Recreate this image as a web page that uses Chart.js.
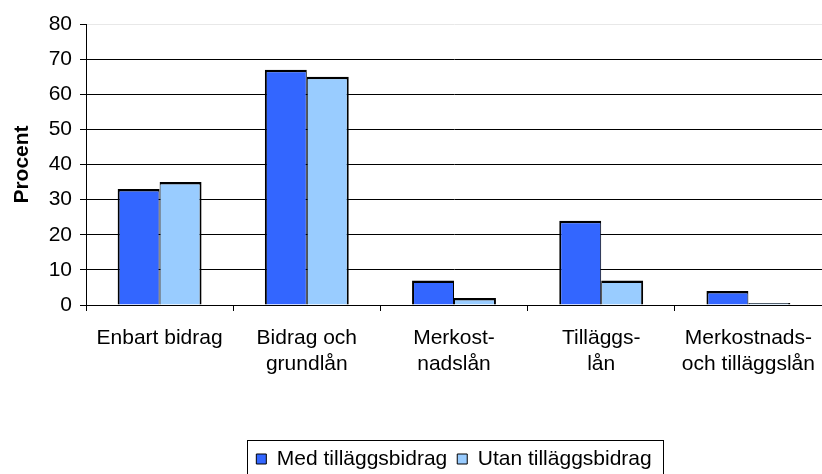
<!DOCTYPE html>
<html>
<head>
<meta charset="utf-8">
<script src="https://cdn.jsdelivr.net/npm/chart.js@4/dist/chart.umd.min.js"></script>
<style>
  html, body { margin: 0; padding: 0; background: #fff; }
  #wrap { width: 822px; height: 474px; }
</style>
</head>
<body>
<div id="wrap"><canvas id="stodChart" width="822" height="474"></canvas></div>
<script>
const categories = [
  ['Enbart bidrag'],
  ['Bidrag och', 'grundlån'],
  ['Merkost-', 'nadslån'],
  ['Tilläggs-', 'lån'],
  ['Merkostnads-', 'och tilläggslån']
];
const medTillagg = [33, 67, 7, 24, 4];
const utanTillagg = [35, 65, 2, 7, 0.6];
const yTicks = [0, 10, 20, 30, 40, 50, 60, 70, 80];

const FONT = "'Liberation Sans', Arial, sans-serif";

// ram runt legenden, som i originalet
const legendFrame = {
  id: 'legendFrame',
  afterLayout(chart) {
    const lg = chart.legend;
    const h = lg.height;
    lg.top = 438.5;
    lg.bottom = lg.top + h;
  },
  afterDraw(chart) {
    const lg = chart.legend;
    const boxes = lg.legendHitBoxes;
    if (!boxes || !boxes.length) return;
    const first = boxes[0];
    const last = boxes[boxes.length - 1];
    const ctx = chart.ctx;
    const left = Math.round(first.left - 9) + 0.5;
    const right = Math.round(last.left + last.width + 11) + 0.5;
    const top = Math.round(lg.top + 1) + 0.5;
    ctx.save();
    ctx.strokeStyle = '#000';
    ctx.lineWidth = 1;
    ctx.strokeRect(left, top, right - left, 60);
    ctx.restore();
  }
};

const ctx = document.getElementById('stodChart').getContext('2d');

const stodChart = new Chart(ctx, {
  type: 'bar',
  data: {
    labels: categories,
    datasets: [
      {
        label: 'Med tilläggsbidrag',
        data: medTillagg,
        backgroundColor: '#3366ff',
        borderColor: '#000',
        borderWidth: { top: 2.5, left: 2, right: 1, bottom: 0 }
      },
      {
        label: 'Utan tilläggsbidrag',
        data: utanTillagg,
        backgroundColor: '#99ccff',
        borderColor: '#000',
        borderWidth: { top: 2.5, left: 1, right: 2, bottom: 0 }
      }
    ]
  },
  options: {
    responsive: false,
    animation: false,
    devicePixelRatio: 1,
    layout: { padding: { top: 24, right: 0, left: 0, bottom: 0 } },
    datasets: {
      bar: { categoryPercentage: 0.57, barPercentage: 1.0 }
    },
    scales: {
      x: {
        grid: {
          offset: true,
          drawOnChartArea: false,
          drawTicks: true,
          tickLength: 6,
          tickColor: '#000'
        },
        border: { color: '#000', width: 1 },
        ticks: {
          color: '#000',
          padding: 14,
          maxRotation: 0,
          autoSkip: false,
          font: { family: FONT, size: 21, lineHeight: 1.24 }
        },
        afterFit(scale) {
          scale.height = 128;
          scale.paddingLeft = 0;
          scale.paddingRight = 0;
        }
      },
      y: {
        min: 0,
        max: 80,
        afterBuildTicks(scale) {
          scale.ticks = yTicks.map(v => ({ value: v }));
        },
        grid: {
          color: c => (c.tick && c.tick.value === 80 ? '#e8e8e8' : '#000'),
          tickColor: '#000',
          tickLength: 6,
          lineWidth: 1
        },
        border: { color: '#000', width: 1 },
        ticks: {
          color: '#000',
          padding: 8,
          font: { family: FONT, size: 21 }
        },
        title: {
          display: true,
          text: 'Procent',
          color: '#000',
          padding: { top: 10, bottom: 0 },
          font: { family: FONT, size: 21, weight: 'bold' }
        },
        afterFit(scale) {
          scale.width = 86;
        }
      }
    },
    plugins: {
      legend: {
        position: 'bottom',
        fullSize: false,
        labels: {
          color: '#000',
          boxWidth: 10,
          boxHeight: 10,
          padding: 10,
          font: { family: FONT, size: 21 },
          generateLabels(chart) {
            const items = Chart.defaults.plugins.legend.labels.generateLabels(chart);
            items.forEach(it => { it.lineWidth = 1; });
            return items;
          }
        }
      },
      tooltip: { enabled: false }
    }
  },
  plugins: [legendFrame]
});
</script>
</body>
</html>
